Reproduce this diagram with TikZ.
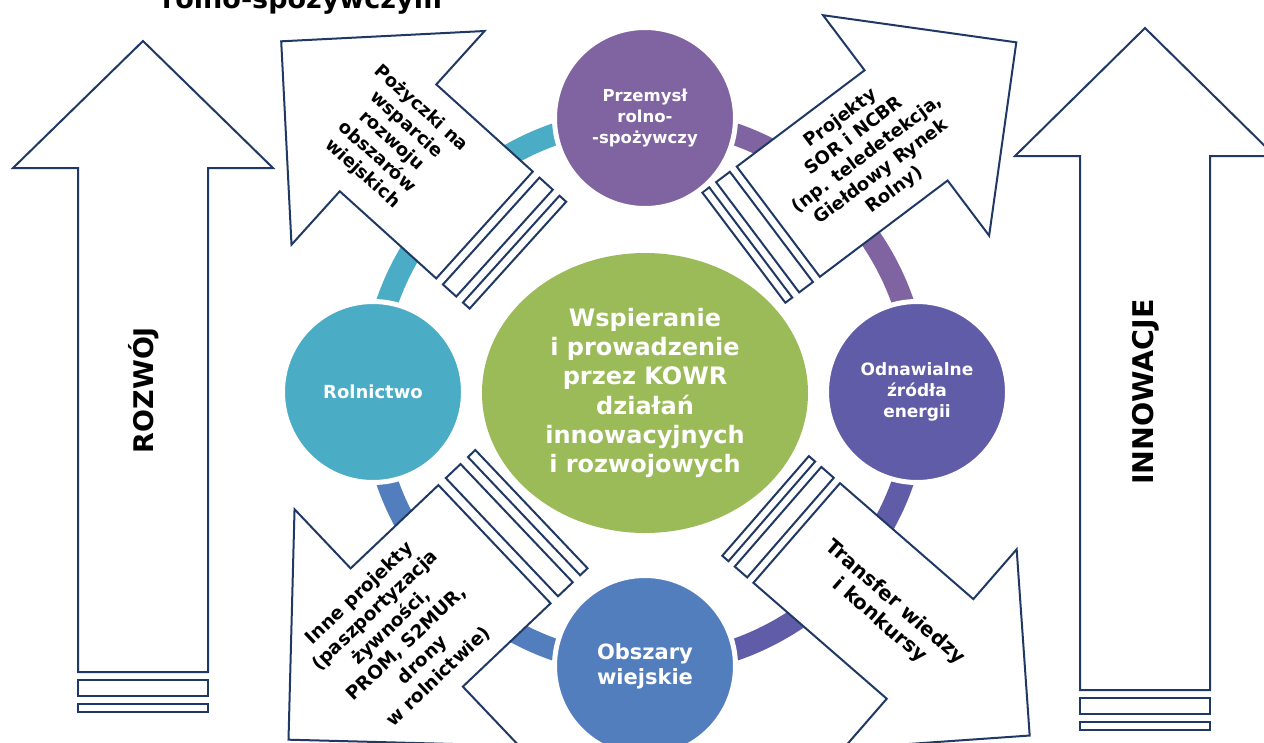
\documentclass[tikz,border=0pt]{standalone}
\usepackage{fontspec}
\setmainfont{DejaVu Sans}
\usetikzlibrary{shapes.geometric}
\definecolor{navyc}{HTML}{1F3864}
\definecolor{cpurple}{HTML}{8064A2}
\definecolor{cteal}{HTML}{4BACC6}
\definecolor{cslate}{HTML}{605CA8}
\definecolor{cblue}{HTML}{537EBE}
\definecolor{cgreen}{HTML}{9BBB59}
\newcommand{\stripedarrow}[5]{%
  \begin{scope}[shift={(#1,-#2)}, rotate=#3]
    \draw[arrowline] (0,-#4) -- (#5,-#4) -- (#5,-2*#4) -- (#5+2*#4,0) -- (#5,2*#4) -- (#5,#4) -- (0,#4) -- cycle;
    \draw[arrowline] (-3*#4/8,-#4) rectangle (-#4/8,#4);
    \draw[arrowline] (-5*#4/8,-#4) rectangle (-4*#4/8,#4);
  \end{scope}}
\begin{document}
\begin{tikzpicture}[x=1pt,y=1pt,
  arrowline/.style={draw=navyc, line width=2pt, fill=white},
  arrtext/.style={align=center, text=black, inner sep=0pt},
  ringseg/.style={line width=22pt},
  circ/.style={circle, draw=white, line width=5pt, text=white, align=center, inner sep=0pt, minimum size=181pt},
  bigtext/.style={font=\bfseries\fontsize{27}{32}\selectfont, text=black, inner sep=0pt}]
\useasboundingbox (0,0) rectangle (1264,-742);
\clip (0,0) rectangle (1264,-742);

% title (cut off at the top)
\node[font=\bfseries\fontsize{27}{32}\selectfont, anchor=base, inner sep=0pt] (title) at (302,-8) {rolno-spożywczym};

% big vertical arrows
\draw[arrowline] (78,-672) -- (78,-168) -- (13,-168) -- (143,-41) -- (273,-168) -- (208,-168) -- (208,-672) -- cycle;
\draw[arrowline] (78,-680) rectangle (208,-696);
\draw[arrowline] (78,-704) rectangle (208,-712);
\node[bigtext, rotate=90] (rozwoj) at (144,-390) {ROZWÓJ};

\draw[arrowline] (1080,-690) -- (1080,-156) -- (1015,-156) -- (1145,-28) -- (1275,-156) -- (1210,-156) -- (1210,-690) -- cycle;
\draw[arrowline] (1080,-698) rectangle (1210,-714);
\draw[arrowline] (1080,-722) rectangle (1210,-730);
\node[bigtext, rotate=90, font=\bfseries\fontsize{28.5}{33}\selectfont] (innowacje) at (1146,-392) {INNOWACJE};

% ring
\coordinate (rc) at (645,-392);
\draw[ringseg, cpurple] (rc) ++(90:273) arc[start angle=90, end angle=0, radius=273];
\draw[ringseg, cslate] (rc) ++(0:273) arc[start angle=0, end angle=-90, radius=273];
\draw[ringseg, cblue] (rc) ++(-90:273) arc[start angle=-90, end angle=-180, radius=273];
\draw[ringseg, cteal] (rc) ++(180:273) arc[start angle=180, end angle=90, radius=273];

% diagonal striped arrows
\stripedarrow{484.5}{225}{137.9}{72}{130}
\stripedarrow{778.3}{221.7}{37}{69}{160}
\stripedarrow{494.5}{544.2}{223.5}{81.5}{121}
\stripedarrow{796.7}{533}{-41}{66}{176.7}

\node[arrtext, rotate=-42.1, font=\bfseries\fontsize{18}{22}\selectfont] (tul) at (391.6,-141.1)
  {Pożyczki na\\wsparcie\\rozwoju\\obszarów\\wiejskich};
\node[arrtext, rotate=37, font=\bfseries\fontsize{18}{22.5}\selectfont] (tur) at (867.7,-154.4)
  {Projekty\\SOR i NCBR\\(np. teledetekcja,\\Giełdowy Rynek\\Rolny)};
\node[arrtext, rotate=43.5, font=\bfseries\fontsize{18.5}{23}\selectfont] (tll) at (398.8,-635.1)
  {Inne projekty\\(paszportyzacja\\żywności,\\PROM, S2MUR,\\drony\\w rolnictwie)};
\node[arrtext, rotate=-41, font=\bfseries\fontsize{20}{24}\selectfont] (tlr) at (887.2,-611.7)
  {Transfer wiedzy\\i konkursy};

% center ellipse
\node[ellipse, fill=cgreen, minimum width=326pt, minimum height=280pt, inner sep=0pt,
      text=white, align=center, font=\bfseries\fontsize{24}{29.3}\selectfont] (center) at (645,-393)
  {Wspieranie\\i prowadzenie\\przez KOWR\\działań\\innowacyjnych\\i rozwojowych};

% circles
\node[circ, fill=cpurple, font=\bfseries\fontsize{16.5}{21}\selectfont] (przemysl) at (645,-118)
  {Przemysł\\rolno-\\-spożywczy};
\node[circ, fill=cteal, font=\bfseries\fontsize{18}{22}\selectfont] (rolnictwo) at (373,-392)
  {Rolnictwo};
\node[circ, fill=cslate, font=\bfseries\fontsize{17}{21}\selectfont] (oze) at (917,-392)
  {Odnawialne\\źródła\\energii};
\node[circ, fill=cblue, font=\bfseries\fontsize{21}{25}\selectfont] (obszary) at (645,-666)
  {Obszary\\wiejskie};
\end{tikzpicture}
\end{document}
